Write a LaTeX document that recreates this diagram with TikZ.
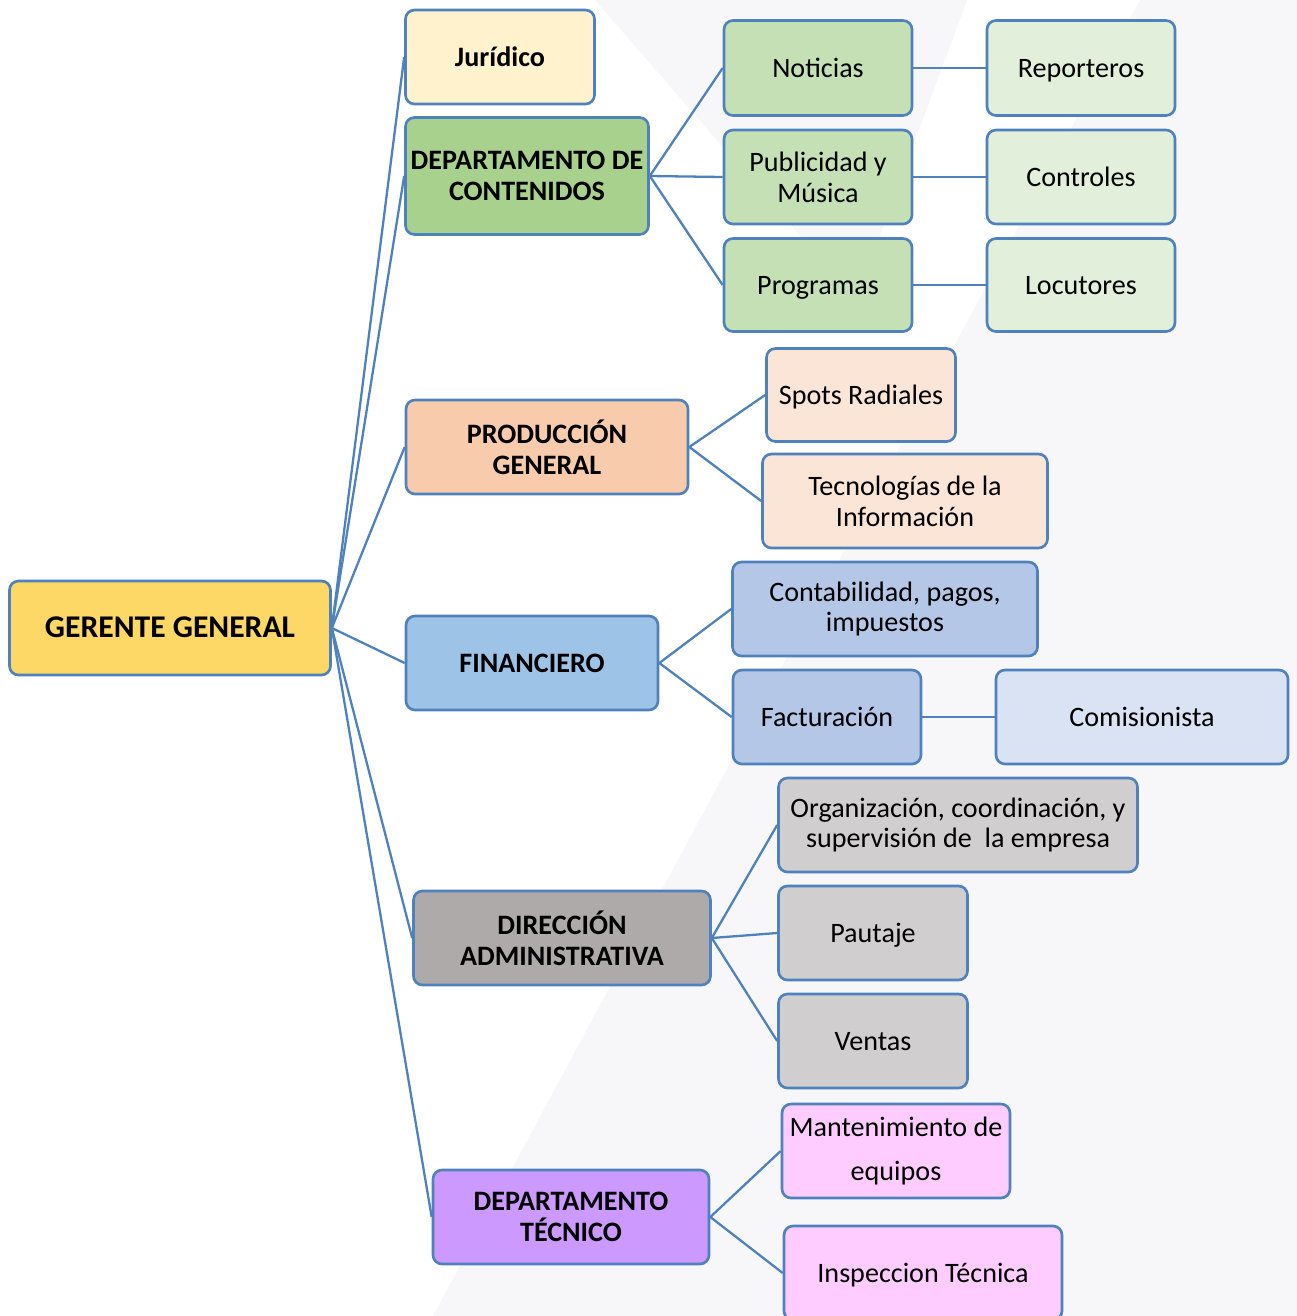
\documentclass[tikz,border=0pt]{standalone}
\usepackage{fontspec}
\setmainfont{Carlito}
\usepackage{tikz}

\definecolor{edge}{HTML}{4F81BD}
\definecolor{bgc}{HTML}{F7F7FA}
\definecolor{gerc}{HTML}{FDD866}
\definecolor{jurc}{HTML}{FFF2CC}
\definecolor{contc}{HTML}{A9D18E}
\definecolor{contk}{HTML}{C5E0B4}
\definecolor{contl}{HTML}{E2EFDA}
\definecolor{prodc}{HTML}{F8CBAD}
\definecolor{prodk}{HTML}{FBE5D6}
\definecolor{finc}{HTML}{9DC3E6}
\definecolor{fink}{HTML}{B4C7E7}
\definecolor{finl}{HTML}{DAE3F3}
\definecolor{dirc}{HTML}{AEAAAA}
\definecolor{dirk}{HTML}{D0CECE}
\definecolor{tecc}{HTML}{CC99FF}
\definecolor{teck}{HTML}{FFCCFF}

\tikzset{
  box/.style={draw=edge, line width=1.5pt, rounded corners=1.8mm, align=center,
    inner sep=2pt, font=\fontsize{16}{17.6}\selectfont},
  head/.style={box, font=\fontsize{16}{17.6}\selectfont\bfseries},
  one/.style={text height=11pt, text depth=0pt},
  sz/.style 2 args={minimum width=#1*0.02cm, minimum height=#2*0.02cm},
  link/.style={draw=edge, line width=1.3pt}
}

\begin{document}
\begin{tikzpicture}[x=0.02cm, y=-0.02cm]
	  % page and faint background bands
	  \fill[white] (0,0) rectangle (1297,1316);
	  \useasboundingbox (0,0) rectangle (1297,1316);
	  \fill[bgc] (595,0) -- (967,0) -- (856,300) -- cycle;
	  \fill[bgc] (1140,0) -- (1297,0) -- (1297,1316) -- (433,1316) -- cycle;

	  % root
	  \node[head, one, fill=gerc, sz={321}{94}, font=\fontsize{18}{20}\selectfont\bfseries]
	  (ger) at (170,628) {GERENTE GENERAL};

	  % first level
	  \node[head, one, fill=jurc, sz={189}{94}] (jur) at (500,57) {Jurídico};
	  \node[head, fill=contc, sz={243}{117}] (cont) at (527,176)
	  {DEPARTAMENTO DE\\CONTENIDOS};
	  \node[head, fill=prodc, sz={282}{94}] (prod) at (547,447)
	  {PRODUCCIÓN\\GENERAL};
	  \node[head, one, fill=finc, sz={252}{94}] (fina) at (532,663) {FINANCIERO};
	  \node[head, fill=dirc, sz={297}{94}] (dire) at (562,938)
	  {DIRECCIÓN\\ADMINISTRATIVA};
	  \node[head, fill=tecc, sz={276}{94}] (tecd) at (571,1217)
	  {DEPARTAMENTO\\TÉCNICO};

	  % contenidos
	  \node[box, one, fill=contk, sz={188}{95}] (noti) at (818,68) {Noticias};
	  \node[box, fill=contk, sz={188}{94}] (publ) at (818,177) {Publicidad y\\Música};
	  \node[box, one, fill=contk, sz={188}{93}] (prog) at (818,285) {Programas};
	  \node[box, one, fill=contl, sz={188}{95}] (repo) at (1081,68) {Reporteros};
	  \node[box, one, fill=contl, sz={188}{94}] (ctrl) at (1081,177) {Controles};
	  \node[box, one, fill=contl, sz={188}{93}] (locu) at (1081,285) {Locutores};

	  % produccion
	  \node[box, one, fill=prodk, sz={189}{93}] (spot) at (861,395) {Spots Radiales};
	  \node[box, fill=prodk, sz={285}{94}] (tecn) at (905,501)
	  {Tecnologías de la\\Información};

	  % financiero
	  \node[box, fill=fink, sz={305}{94}] (conta) at (885,609)
	  {Contabilidad, pagos,\\impuestos};
	  \node[box, one, fill=fink, sz={188}{94}] (fact) at (827,717) {Facturación};
	  \node[box, one, fill=finl, sz={292}{94}] (comi) at (1142,717) {Comisionista};

	  % direccion
	  \node[box, fill=dirk, sz={359}{94}] (orga) at (958,825)
	  {Organización, coordinación, y\\supervisión de\ \ la empresa};
	  \node[box, one, fill=dirk, sz={189}{94}] (paut) at (873,933) {Pautaje};
	  \node[box, one, fill=dirk, sz={189}{94}] (vent) at (873,1041) {Ventas};

	  % tecnico
	  \node[box, fill=teck, sz={228}{94}, font=\fontsize{16}{24.5}\selectfont]
	  (mant) at (896,1151) {Mantenimiento de\\equipos};
	  \node[box, one, fill=teck, sz={278}{94}] (insp) at (923,1273) {Inspeccion Técnica};

	  % connectors
	  \foreach \a in {jur,cont,prod,fina,dire,tecd}
		\draw[link] (ger.east) -- (\a.west);
	  \foreach \a/\b in {cont/noti,cont/publ,cont/prog,noti/repo,publ/ctrl,
		prog/locu,prod/spot,prod/tecn,fina/conta,fina/fact,fact/comi,
		dire/orga,dire/paut,dire/vent,tecd/mant,tecd/insp}
		\draw[link] (\a.east) -- (\b.west);
	\end{tikzpicture}
\end{document}
